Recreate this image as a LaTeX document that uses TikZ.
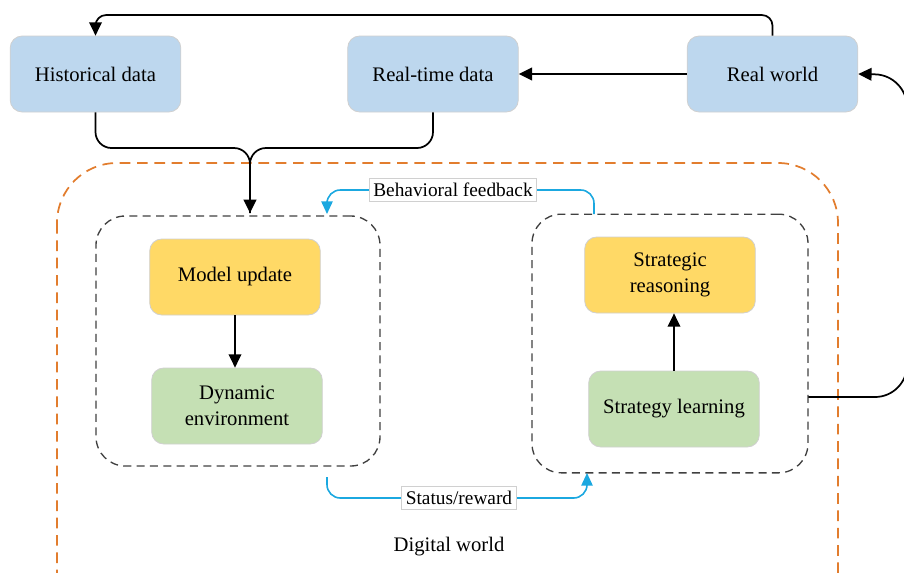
\documentclass[tikz,border=0pt]{standalone}
\usepackage{fontspec}
\setmainfont{Liberation Serif}
\usetikzlibrary{arrows.meta,calc}
\definecolor{dataBlue}{HTML}{BDD7EE}
\definecolor{modelYellow}{HTML}{FFD966}
\definecolor{envGreen}{HTML}{C5E0B4}
\definecolor{boxEdge}{HTML}{D0D0D0}
\definecolor{worldOrange}{HTML}{E27D2E}
\definecolor{flowCyan}{HTML}{1BA8E0}
\tikzset{
  card/.style={rounded corners=9pt, draw=boxEdge, line width=0.6pt,
    minimum width=128pt, minimum height=57pt, align=center,
    font=\fontsize{15.5}{19.5}\selectfont, text=black},
  databox/.style={card, fill=dataBlue},
  ybox/.style={card, fill=modelYellow},
  gbox/.style={card, fill=envGreen},
  group/.style={draw=black!75, line width=1pt, dash pattern=on 6pt off 4pt, rounded corners=22pt},
  blk/.style={draw=black, line width=1.3pt},
  blkarr/.style={blk, -{Triangle[width=9.5pt,length=10pt]}},
  cyanline/.style={draw=flowCyan, line width=1.2pt},
  cyanarr/.style={cyanline, -{Triangle[width=8.5pt,length=9.5pt]}},
  tag/.style={fill=white, draw=boxEdge, line width=0.6pt, inner xsep=3pt, inner ysep=3.5pt,
    font=\fontsize{14.5}{16}\selectfont}
}
\begin{document}
\begin{tikzpicture}[x=0.75pt,y=-0.75pt]
\useasboundingbox (0,0) rectangle (904,572);
\begin{scope}
\clip (0,0) rectangle (904,572);
% digital world frame
\draw[worldOrange, line width=1.3pt, dash pattern=on 8pt off 5pt, rounded corners=45pt]
  (57,163) rectangle (838,640);
% right-hand loop back to the real world
\coordinate (loopout) at (808,397);
\node[databox] (rw) at (772.5,74) {Real world};
\draw[blkarr, rounded corners=24pt] (loopout) -- (907,397) -- (907,75) -- (rw.east);
\end{scope}

% data sources
\node[databox] (hist) at (95.5,74) {Historical data};
\node[databox] (rt) at (433,74) {Real-time data};

% groups
\node[group, minimum width=213pt, minimum height=187.5pt] (lbox) at (238,341) {};
\node[group, minimum width=207pt, minimum height=194pt] (rbox) at (670,343.5) {};

% inner cards
\node[ybox] (mu) at (235,277) {Model update};
\node[gbox] (de) at (237,406) {Dynamic\\environment};
\node[ybox] (sr) at (670,275) {Strategic\\reasoning};
\node[gbox] (sl) at (674,409) {Strategy learning};

% black connectors
\draw[blkarr, rounded corners=8pt] (rw.north) -- (772.5,15) -| (hist.north);
\draw[blkarr] (rw.west) -- (rt.east);
\coordinate (merge) at (250,148);
\coordinate (lin) at (250,213);
\draw[blk, rounded corners=12pt] (hist.south) |- (merge) -- (lin);
\draw[blkarr, rounded corners=12pt] (rt.south) |- (merge) -- (lin);
\draw[blkarr] (mu.south) -- (mu.south |- de.north);
\draw[blkarr] (sl.north) -- (sl.north |- sr.south);

% cyan feedback loops
\coordinate (bfs) at (594,214);
\coordinate (bfe) at (327,214);
\draw[cyanarr, rounded corners=10pt] (bfs) -- (594,190) -- (327,190) -- (bfe);
\node[tag] (bf) at (453,190) {Behavioral feedback};
\coordinate (srs) at (327,477);
\coordinate (sre) at (587,473);
\draw[cyanarr, rounded corners=10pt] (srs) -- (327,498) -- (587,498) -- (sre);
\node[tag] (sw) at (459,498) {Status/reward};

\node[font=\fontsize{15.5}{17.5}\selectfont] (dw) at (449,547) {Digital world};
\end{tikzpicture}
\end{document}
